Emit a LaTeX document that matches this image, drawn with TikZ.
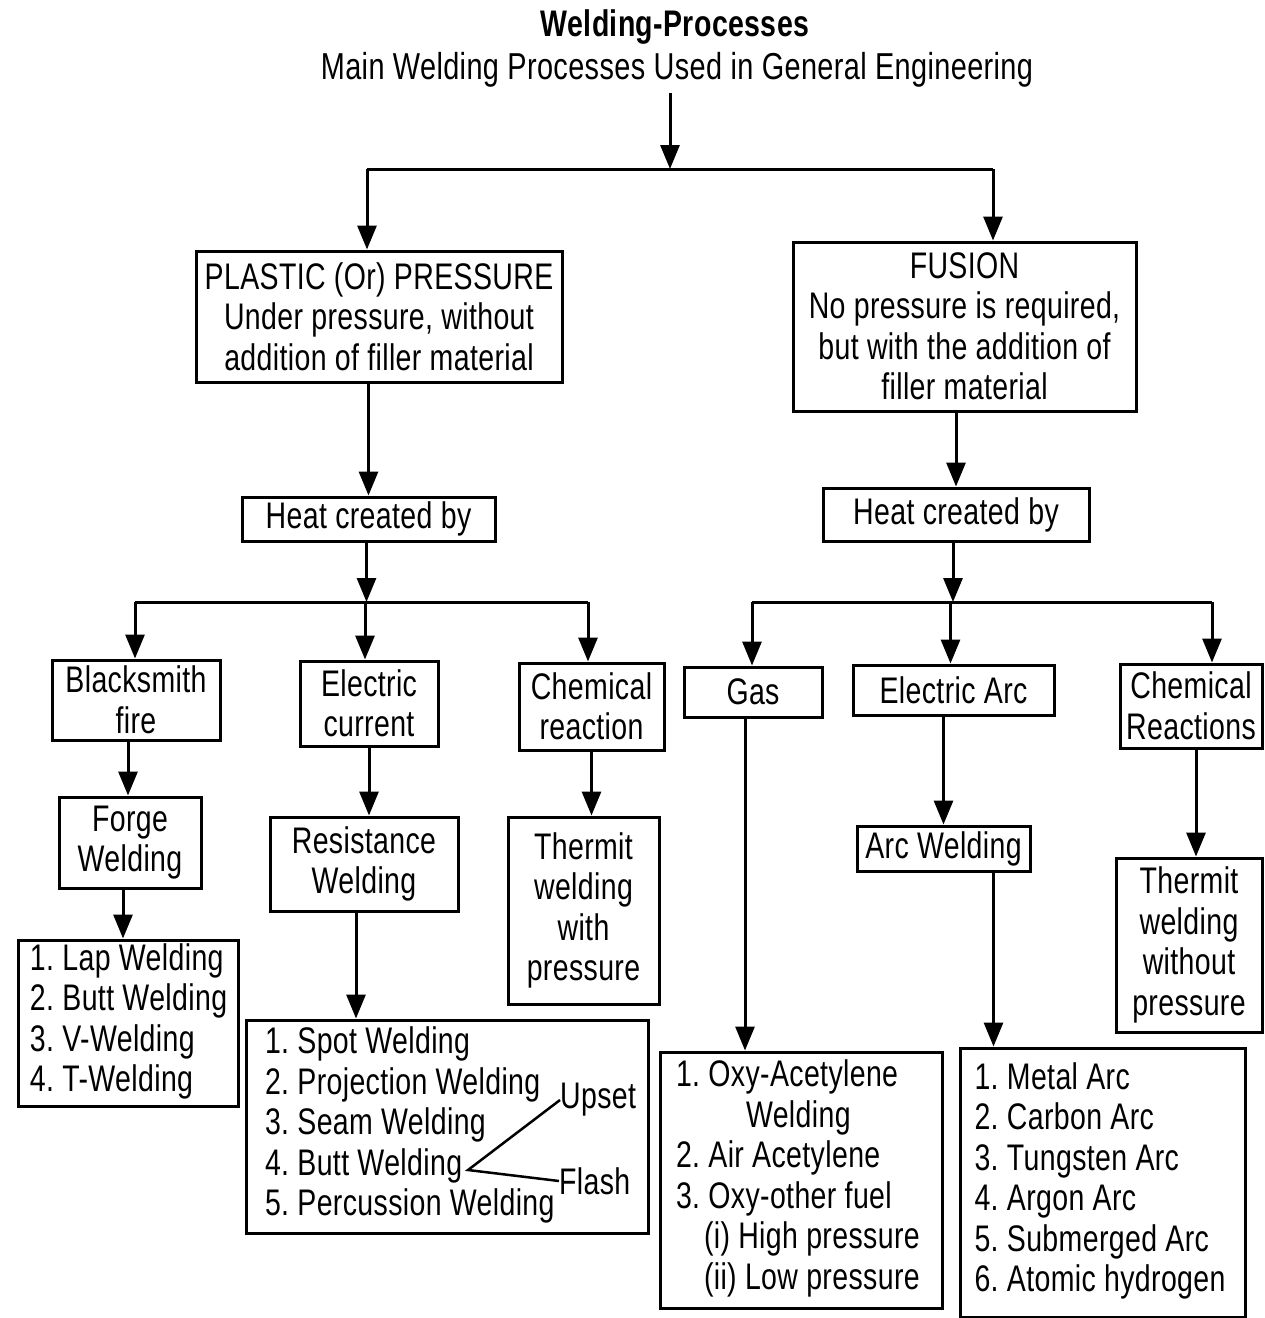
\documentclass[tikz,border=0pt]{standalone}
\usepackage{fontspec}
\setmainfont{Liberation Sans}[FakeStretch=0.77,LetterSpace=1.0]
\usetikzlibrary{arrows.meta}
% left-aligned lines set in a field of fixed width
\newcommand\boxlines[2]{\makebox[#1][l]{\begin{tabular}{@{}l@{}}#2\end{tabular}}}
\begin{document}
\frenchspacing
\begin{tikzpicture}[x=1pt,y=-1pt,
  txt/.style={font=\fontsize{37}{40.5}\selectfont, inner sep=0pt},
  box/.style n args={2}{draw, line width=3pt, txt, align=center,
    minimum width=#1, minimum height=#2},
  arr/.style={line width=3pt, -{Triangle[length=24pt,width=19pt]}},
  ln/.style={line width=3pt},
]
\useasboundingbox (0,0) rectangle (1265,1318);

% heading
\node[txt, font=\fontsize{37}{40.5}\selectfont\bfseries] (title) at (675,27) {Welding-Processes};
\node[txt, font=\fontsize{37.5}{40.5}\selectfont] (sub) at (677,70) {Main Welding Processes Used in General Engineering};

% two main classes
\node[box={366pt}{131pt}] (plastic) at (379,316.5)
  {PLASTIC (Or) PRESSURE\\Under pressure, without\\addition of filler material};
\node[box={343pt}{169pt}] (fusion) at (964.5,326.5)
  {FUSION\\No pressure is required,\\but with the addition of\\filler material};

\coordinate (jt) at (670,169);
\coordinate (jl) at (367,169);
\coordinate (jr) at (993,169);
\draw[arr] (sub.south -| jt) ++(0,5) -- (jt);
\draw[ln] (jl) -- (jr);
\draw[arr] (jl) -- (jl |- plastic.north);
\draw[arr] (jr) -- (jr |- fusion.north);

% heat sources
\node[box={253pt}{44pt}] (heatL) at (368.5,519) {Heat created by};
\node[box={266pt}{53pt}] (heatR) at (956,514.5) {Heat created by};
\draw[arr] (heatL.north |- plastic.south) -- (heatL.north);
\draw[arr] (heatR.north |- fusion.south) -- (heatR.north);

\coordinate (hl1) at (135,602);
\coordinate (hl2) at (588,602);
\coordinate (hr1) at (752,602);
\coordinate (hr2) at (1212,602);
\draw[arr] ([xshift=-2pt]heatL.south) -- ([xshift=-2pt]heatL.south |- hl1);
\draw[arr] ([xshift=-3pt]heatR.south) -- ([xshift=-3pt]heatR.south |- hr1);
\draw[ln] (hl1) -- (hl2);
\draw[ln] (hr1) -- (hr2);

% pressure branch
\node[box={168pt}{80pt}] (black) at (136,700) {Blacksmith\\fire};
\node[box={138pt}{85pt}] (ecur) at (369,703.5) {Electric\\current};
\node[box={145pt}{87pt}] (chem) at (591.5,706.5) {Chemical\\reaction};
\draw[arr] (hl1) -- (hl1 |- black.north);
\draw[arr] (hl1 -| ecur.north) ++(-4,0) -- ([xshift=-4pt]ecur.north);
\draw[arr] (hl2) -- (hl2 |- chem.north);

% fusion branch
\node[box={138pt}{50pt}] (gas) at (753,692) {Gas};
\node[box={201pt}{50pt}] (earc) at (953.5,690) {Electric Arc};
\node[box={142pt}{84pt}] (chemR) at (1191,706) {Chemical\\Reactions};
\draw[arr] (hr1) -- (hr1 |- gas.north);
\draw[arr] (hr1 -| earc.north) ++(-3,0) -- ([xshift=-3pt]earc.north);
\draw[arr] (hr2) -- (hr2 |- chemR.north);

% processes
\node[box={142pt}{91pt}] (forge) at (130,842.5) {Forge\\Welding};
\node[box={188pt}{94pt}] (resist) at (364,864) {Resistance\\Welding};
\node[box={151pt}{187pt}] (thwith) at (583.5,910.5) {Thermit\\welding\\with\\pressure};
\node[box={173pt}{45pt}] (arcw) at (943.5,848.5) {Arc Welding};
\node[box={146pt}{174pt}] (thwout) at (1189,945) {Thermit\\welding\\without\\pressure};

\draw[arr] ([xshift=-8pt]black.south) -- ([xshift=-8pt]black.south |- forge.north);
\draw[arr] (ecur.south) -- (ecur.south |- resist.north);
\draw[arr] (chem.south) -- (chem.south |- thwith.north);
\draw[arr] ([xshift=-10pt]earc.south) -- ([xshift=-10pt]earc.south |- arcw.north);
\draw[arr] ([xshift=5pt]chemR.south) -- ([xshift=5pt]chemR.south |- thwout.north);

% lists of methods
\node[box={220pt}{166pt}] (lap) at (128,1023)
  {\boxlines{196pt}{1. Lap Welding\\2. Butt Welding\\3. V-Welding\\4. T-Welding}};
\node[box={402pt}{213pt}] (spot) at (447,1126.5)
  {\boxlines{364pt}{1. Spot Welding\\2. Projection Welding\\3. Seam Welding\\4. Butt Welding\\5. Percussion Welding}};
\node[box={282pt}{256pt}] (oxy) at (801,1180)
  {\boxlines{250pt}{1. Oxy-Acetylene\\\hspace*{70pt}Welding\\2. Air Acetylene\\3. Oxy-other fuel\\\hspace*{28pt}(i) High pressure\\\hspace*{28pt}(ii) Low pressure}};
\node[box={285pt}{269pt}] (arcl) at (1102.5,1182.5)
  {\boxlines{256pt}{1. Metal Arc\\2. Carbon Arc\\3. Tungsten Arc\\4. Argon Arc\\5. Submerged Arc\\6. Atomic hydrogen}};

\draw[arr] ([xshift=-7pt]forge.south) -- ([xshift=-7pt]forge.south |- lap.north);
\draw[arr] ([xshift=-8pt]resist.south) -- ([xshift=-8pt]resist.south |- spot.north);
\draw[arr] ([xshift=-8pt]gas.south) -- ([xshift=-8pt]gas.south |- oxy.north);
\draw[arr] ([xshift=50pt]arcw.south) -- ([xshift=50pt]arcw.south |- arcl.north);

% butt welding variants
\node[txt, anchor=west] (upset) at (560,1100) {Upset};
\node[txt, anchor=west] (flash) at (559,1181) {Flash};
\coordinate (bw) at (468,1170);
\draw[line width=2.5pt] (upset.west) -- (bw) -- (flash.west);
\end{tikzpicture}
\end{document}
